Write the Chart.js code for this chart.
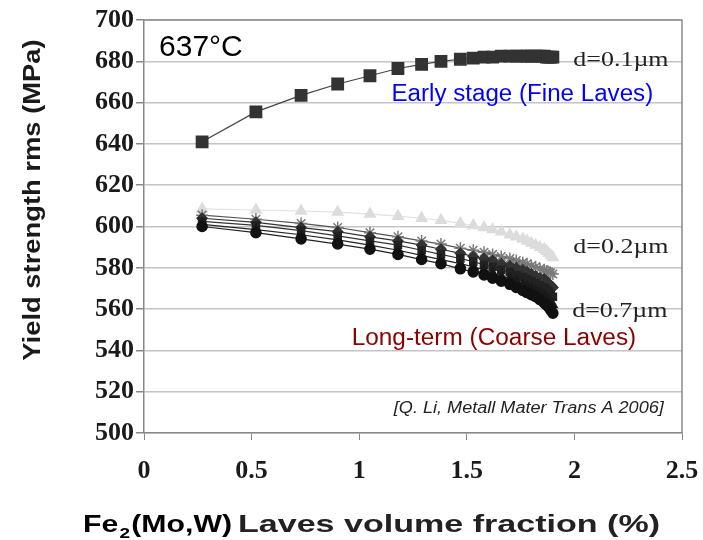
<!DOCTYPE html>
<html>
<head>
<meta charset="utf-8">
<script src="https://cdn.jsdelivr.net/npm/chart.js@4.4.1/dist/chart.umd.min.js"></script>
<style>
  html, body { margin: 0; padding: 0; background: #fff; }
  #wrap { width: 703px; height: 540px; }
</style>
</head>
<body>
<div id="wrap"><canvas id="ysChart" width="703" height="540"></canvas></div>
<script>
// Laves volume fraction (%) - same steps for every particle size
var fraction = [0.27, 0.52, 0.73, 0.90, 1.05, 1.18, 1.29, 1.38, 1.47, 1.53, 1.58, 1.62, 1.66,
                1.70, 1.73, 1.76, 1.78, 1.80, 1.82, 1.84, 1.86, 1.87, 1.88, 1.89, 1.90];

// yield strength (MPa) per Laves particle size
var ys_d01 = [641, 655.5, 663.5, 669, 673, 676.5, 678.5, 680, 681, 681.5, 682, 682, 682.5,
              682.5, 682.5, 682.5, 682.5, 682.5, 682.5, 682.5, 682.5, 682, 682, 682, 682];
var ys_d02 = [608.5, 608, 607.5, 607, 606, 605, 604, 603, 601.5, 600.5, 599.5, 598.5, 597.5,
              596, 595, 594, 593, 592, 591, 590, 589, 588, 587, 586, 585];
var ys_d03 = [605.5, 603.5, 601.5, 599.5, 597, 595, 593, 591.5, 589.5, 588.5, 587.5, 586.5, 585.5,
              584.5, 583.5, 582.5, 582, 581, 580.5, 579.5, 579, 578.5, 578, 577.5, 577];
var ys_d04 = [604, 602, 599.5, 597.5, 595, 593, 591, 589, 587, 585.5, 584.5, 583.5, 582,
              581, 580, 579, 578, 577, 576, 575, 574.5, 573.5, 572.5, 571.5, 570.5];
var ys_d05 = [602.5, 600.5, 598, 595.5, 593, 591, 588.5, 586.5, 584.5, 583, 581.5, 580.5, 579,
              578, 576.5, 575.5, 574.5, 573.5, 572.5, 571.5, 570.5, 569.5, 568.5, 567, 566];
var ys_d06 = [601, 598.5, 596, 593.5, 591, 588.5, 586, 584, 582, 580.5, 579, 577.5, 576,
              575, 573.5, 572, 571, 570, 569, 568, 567, 565.5, 564.5, 563.5, 562];
var ys_d07 = [600, 597, 594, 591.5, 589, 586.5, 584, 582, 579.5, 578, 576.5, 575, 573.5,
              572, 570.5, 569, 568, 567, 566, 564.5, 563, 562, 561, 559.5, 558];

var xTicks = [0, 0.5, 1, 1.5, 2, 2.5];
var yTicks = [500, 520, 540, 560, 580, 600, 620, 640, 660, 680, 700];

// text notes placed in data coordinates
var notes = [
    { text: "637°C", x: 0.07, y: 686.5, font: "30px Arial", color: "#000", sx: 1 },
    { text: "Early stage (Fine Laves)", x: 1.15, y: 664, font: "23px Arial", color: "#0000ff", sx: 1.05 },
    { text: "d=0.1µm", x: 1.995, y: 680.5, font: "22px 'Liberation Serif'", color: "#222", sx: 1.18 },
    { text: "d=0.2µm", x: 1.995, y: 590, font: "22px 'Liberation Serif'", color: "#222", sx: 1.18 },
    { text: "d=0.7µm", x: 1.99, y: 559, font: "22px 'Liberation Serif'", color: "#222", sx: 1.18 },
    { text: "Long-term (Coarse Laves)", x: 0.965, y: 545.5, font: "23px Arial", color: "#8b0000", sx: 1.06 },
    { text: "[Q. Li, Metall Mater Trans A 2006]", x: 1.161, y: 512, font: "italic 16px Arial", color: "#222", sx: 1.13 }
];

function pts(arr) {
    return fraction.map((f, i) => ({ x: f, y: arr[i] }));
}

function series(arr, style, color, lineColor, radius) {
    return {
        data: pts(arr),
        borderColor: lineColor,
        borderWidth: 1.2,
        pointStyle: style,
        pointRadius: radius,
        pointBackgroundColor: color,
        pointBorderColor: color,
        pointBorderWidth: 1.5,
        showLine: true,
        tension: 0,
    };
}

// draw text squeezed/stretched horizontally like the scanned figure
function stretchedText(ctx, text, x, y, sx) {
    ctx.save();
    ctx.translate(x, y);
    ctx.scale(sx, 1);
    ctx.fillText(text, 0, 0);
    ctx.restore();
}

var notesPlugin = {
    id: "notes",
    afterDatasetsDraw(chart) {
        var ctx = chart.ctx;
        var xs = chart.scales.x, ysc = chart.scales.y;
        var a = chart.chartArea;
        ctx.save();
        // frame top / right
        ctx.strokeStyle = "#8a8a8a";
        ctx.lineWidth = 1.5;
        ctx.beginPath();
        ctx.moveTo(a.left, a.top);
        ctx.lineTo(a.right, a.top);
        ctx.lineTo(a.right, a.bottom);
        ctx.stroke();

        ctx.textBaseline = "middle";
        ctx.textAlign = "left";
        notes.forEach((n) => {
            ctx.font = n.font;
            ctx.fillStyle = n.color;
            stretchedText(ctx, n.text, xs.getPixelForValue(n.x), ysc.getPixelForValue(n.y), n.sx);
        });

        // y axis title
        ctx.fillStyle = "#1a1a1a";
        ctx.font = "bold 24px Arial";
        ctx.textAlign = "center";
        ctx.save();
        ctx.translate(33, 200);
        ctx.rotate(-Math.PI / 2);
        ctx.scale(1.14, 1);
        ctx.fillText("Yield strength rms (MPa)", 0, 0);
        ctx.restore();

        // x axis title with subscript, first part stretched to ~149px
        ctx.textAlign = "left";
        ctx.textBaseline = "alphabetic";
        ctx.fillStyle = "#000";
        var x0 = 83, yb = 532;
        ctx.font = "bold 24px Arial";
        var wFe = ctx.measureText("Fe").width;
        var wMo = ctx.measureText("(Mo,W)").width;
        ctx.font = "bold 15px Arial";
        var w2 = ctx.measureText("2").width;
        var k = 149 / (wFe + w2 + 2 + wMo);
        ctx.save();
        ctx.translate(x0, yb);
        ctx.scale(k, 1);
        ctx.font = "bold 24px Arial";
        ctx.fillText("Fe", 0, 0);
        ctx.font = "bold 15px Arial";
        ctx.fillText("2", wFe + 1, 6);
        ctx.font = "bold 24px Arial";
        ctx.fillText("(Mo,W)", wFe + w2 + 2, 0);
        ctx.restore();

        ctx.fillStyle = "#222";
        ctx.font = "bold 24px Arial";
        var rest = "Laves volume fraction (%)";
        var wr = ctx.measureText(rest).width;
        stretchedText(ctx, rest, 238, yb, 422 / wr);
        ctx.restore();
    },
};

var ctx = document.getElementById("ysChart").getContext("2d");
new Chart(ctx, {
    type: "scatter",
    data: {
        datasets: [
            series(ys_d07, "circle", "#111", "#222", 5),
            series(ys_d06, "triangle", "#1a1a1a", "#222", 5),
            series(ys_d05, "rect", "#222", "#333", 5),
            series(ys_d04, "rectRot", "#333", "#333", 5),
            series(ys_d03, "star", "#7a7a7a", "#555", 6),
            series(ys_d02, "triangle", "#dcdcdc", "#e2e2e2", 6),
            series(ys_d01, "rect", "#333", "#444", 8),
        ],
    },
    options: {
        responsive: false,
        animation: false,
        layout: { padding: { left: 0, right: 21, top: 20, bottom: 0 } },
        plugins: { legend: { display: false }, tooltip: { enabled: false } },
        scales: {
            x: {
                type: "linear",
                min: 0,
                max: 2.5,
                afterBuildTicks: (s) => { s.ticks = xTicks.map((v) => ({ value: v })); },
                afterFit: (s) => { s.height = 107; s.paddingLeft = 0; s.paddingRight = 0; },
                grid: { drawOnChartArea: false, drawTicks: true, tickLength: 7, color: "#888" },
                border: { color: "#888", width: 1.5 },
                ticks: {
                    padding: 16,
                    color: "#1a1a1a",
                    font: { family: "'Liberation Serif'", size: 26, weight: "bold" },
                    callback: (v) => String(v),
                },
            },
            y: {
                type: "linear",
                min: 500,
                max: 700,
                afterBuildTicks: (s) => { s.ticks = yTicks.map((v) => ({ value: v })); },
                afterFit: (s) => { s.width = 144; },
                grid: { color: "#c4c4c4", lineWidth: 1.5, tickLength: 8, tickColor: "#888" },
                border: { color: "#888", width: 1.5 },
                ticks: {
                    padding: 2,
                    color: "#1a1a1a",
                    font: { family: "'Liberation Serif'", size: 26, weight: "bold" },
                },
            },
        },
    },
    plugins: [notesPlugin],
});
</script>
</body>
</html>
